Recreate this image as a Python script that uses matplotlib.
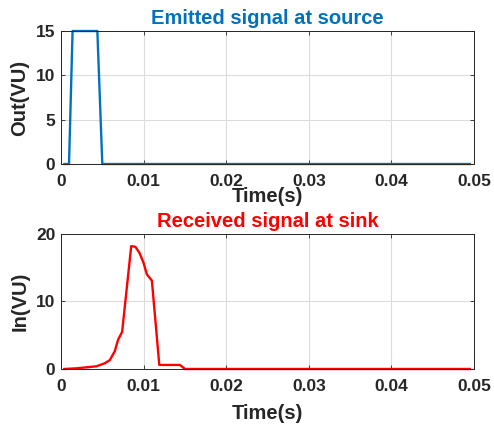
import matplotlib
matplotlib.use("Agg")
import matplotlib.pyplot as plt

# emitted signal (top)
t_out = [0.0004, 0.00097, 0.0014, 0.0044, 0.0050, 0.0495]
v_out = [0, 0, 15, 15, 0, 0]

# received signal (bottom)
t_in = [0.0004, 0.0019, 0.0043, 0.0053, 0.0059, 0.0065, 0.0069, 0.0074,
        0.0085, 0.0090, 0.0095, 0.0100, 0.0104, 0.0110, 0.0119, 0.0144,
        0.0150, 0.0495]
v_in = [0, 0.1, 0.4, 0.85, 1.3, 2.6, 4.3, 5.5,
        18.2, 18.1, 17.2, 15.7, 14.0, 13.1, 0.6, 0.6,
        0, 0]

xticks = [0, 0.01, 0.02, 0.03, 0.04, 0.05]
xticklabels = ["0", "0.01", "0.02", "0.03", "0.04", "0.05"]

plt.rcParams['font.family'] = ['Liberation Sans', 'DejaVu Sans']
plt.rcParams['font.weight'] = 'bold'

fig = plt.figure(figsize=(4.94, 4.30), dpi=100)
ax1 = fig.add_axes([0.1235, 0.6186, 0.836, 0.3093])
ax2 = fig.add_axes([0.1235, 0.1419, 0.836, 0.3140])

def style(ax, yticks):
    ax.set_xlim(0, 0.05)
    ax.set_xticks(xticks)
    ax.set_xticklabels(xticklabels)
    ax.set_yticks(yticks)
    ax.grid(True, color="#dcdcdc", linewidth=0.8)
    ax.set_axisbelow(True)
    ax.tick_params(direction="in", length=3, width=0.6, top=True, right=True,
                   labelsize=12.5, colors="#262626", pad=4)
    ax.tick_params(axis="x", pad=7.5)
    for s in ax.spines.values():
        s.set_color("#262626")
        s.set_linewidth(0.7)
    for lab in ax.get_xticklabels() + ax.get_yticklabels():
        lab.set_fontweight("bold")

ax1.plot(t_out, v_out, color="#0072BD", linewidth=1.7, clip_on=False)
ax1.set_ylim(0, 15)
style(ax1, [0, 5, 10, 15])
ax1.set_title("Emitted signal at source", color="#0072BD", fontsize=14.5,
              fontweight="bold", pad=5)
ax1.set_ylabel("Out(VU)", fontsize=14.5, fontweight="bold", color="#262626", labelpad=5)
ax1.set_xlabel("Time(s)", fontsize=14.5, fontweight="bold", color="#262626", labelpad=-2)

ax2.plot(t_in, v_in, color="#FF0000", linewidth=1.7, clip_on=False)
ax2.set_ylim(0, 20)
style(ax2, [0, 10, 20])
ax2.set_title("Received signal at sink", color="#FF0000", fontsize=14.5,
              fontweight="bold", pad=5)
ax2.set_ylabel("In(VU)", fontsize=14.5, fontweight="bold", color="#262626", labelpad=5)
ax2.set_xlabel("Time(s)", fontsize=14.5, fontweight="bold", color="#262626", labelpad=7)

fig.savefig("out.png", dpi=100)
